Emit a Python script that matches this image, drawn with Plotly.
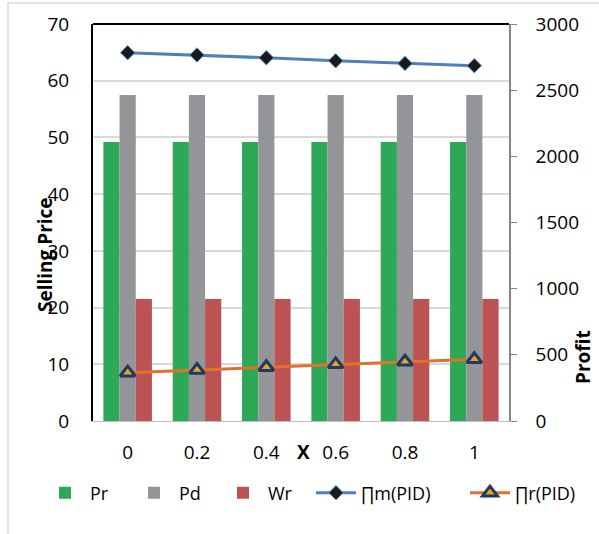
import plotly.graph_objects as go

categories = ["0", "0.2", "0.4", "0.6", "0.8", "1"]
pr = [49.2, 49.2, 49.2, 49.2, 49.2, 49.2]
pd_ = [57.5, 57.5, 57.5, 57.5, 57.5, 57.5]
wr = [21.5, 21.5, 21.5, 21.5, 21.5, 21.5]
pi_m = [2783, 2766, 2745, 2722, 2702, 2685]
pi_r = [365, 385, 406, 428, 448, 466]

FONT = "Open Sans"
L, R, T, B = 93, 90, 24, 113
W, H = 599, 534
pw = W - L - R
ph = H - T - B

def px_x(x):
    return (x - L) / pw

def px_y(y):
    return (H - B - y) / ph

fig = go.Figure()
fig.add_trace(go.Bar(x=categories, y=pr, name="Pr", legend="legend",
                     marker=dict(color="#2CA857", line=dict(width=0))))
fig.add_trace(go.Bar(x=categories, y=pd_, name="Pd", legend="legend",
                     marker=dict(color="#939598", line=dict(width=0))))
fig.add_trace(go.Bar(x=categories, y=wr, name="Wr", legend="legend",
                     marker=dict(color="#BA5352", line=dict(width=0))))
fig.add_trace(go.Scatter(x=categories, y=pi_m, name="∏m(PID)", yaxis="y2", mode="lines+markers",
                         legend="legend2",
                         line=dict(color="#4E81BA", width=3),
                         marker=dict(symbol="diamond", size=11, color="#1A1A1A", line=dict(color="#4E81BA", width=1))))
fig.add_trace(go.Scatter(x=categories, y=pi_r, name="∏r(PID)", yaxis="y2", mode="lines+markers",
                         legend="legend2",
                         line=dict(color="#E2722B", width=3),
                         marker=dict(symbol="triangle-up", size=13, color="#E0A820", line=dict(color="#1F3864", width=3))))

fig.update_layout(
    width=W, height=H,
    margin=dict(l=L, r=R, t=T, b=B, autoexpand=False),
    paper_bgcolor="white", plot_bgcolor="white",
    font=dict(family=FONT, size=19, color="#000000"),
    barmode="group", bargap=0.3, bargroupgap=0,
    showlegend=True,
    legend=dict(orientation="h", x=px_x(40), xanchor="left", y=px_y(493), yanchor="middle",
                font=dict(size=18), itemwidth=40, entrywidth=34, traceorder="normal",
                bgcolor="rgba(0,0,0,0)"),
    legend2=dict(orientation="h", x=px_x(311), xanchor="left", y=px_y(493), yanchor="middle",
                 font=dict(size=18), itemwidth=40, entrywidth=99, traceorder="normal",
                 bgcolor="rgba(0,0,0,0)"),
    xaxis=dict(type="category", showline=True, linecolor="#BFBFBF", linewidth=1, automargin=False,
               ticks="", tickfont=dict(size=19), showgrid=False, ticklabelstandoff=14),
    yaxis=dict(range=[0, 70], dtick=10, showline=True, linecolor="#000000", linewidth=2, automargin=False,
               showgrid=True, gridcolor="#D9D9D9", gridwidth=1.5, zeroline=False,
               tickfont=dict(size=19), ticks="", ticklabelstandoff=18),
    yaxis2=dict(range=[0, 3000], dtick=500, overlaying="y", side="right", showgrid=False, automargin=False,
                showline=True, linecolor="#868686", linewidth=1.5, ticks="outside", ticklen=6,
                tickcolor="#868686", tickfont=dict(size=19), zeroline=False, ticklabelstandoff=15),
    shapes=[
        dict(type="line", xref="paper", yref="paper", x0=0, x1=1, y0=1, y1=1,
             line=dict(color="#000000", width=2)),
        dict(type="rect", xref="paper", yref="paper", x0=px_x(8), x1=px_x(610), y0=px_y(545), y1=px_y(3),
             line=dict(color="#D9D9D9", width=1.5), layer="below"),
    ],
    annotations=[
        dict(text="<b>X</b>", xref="paper", yref="paper", x=px_x(303), y=px_y(452),
             showarrow=False, font=dict(size=19), xanchor="center", yanchor="middle"),
        dict(text="<b>Selling Price</b>", xref="paper", yref="paper", x=px_x(45), y=px_y(255),
             showarrow=False, textangle=-90, font=dict(size=19), xanchor="center", yanchor="middle"),
        dict(text="<b>Profit</b>", xref="paper", yref="paper", x=px_x(583), y=px_y(357),
             showarrow=False, textangle=-90, font=dict(size=19), xanchor="center", yanchor="middle"),
    ],
)

fig.write_html("out.html", config={"displayModeBar": False},
               post_script="document.body.style.margin='0';document.body.style.padding='0';")
